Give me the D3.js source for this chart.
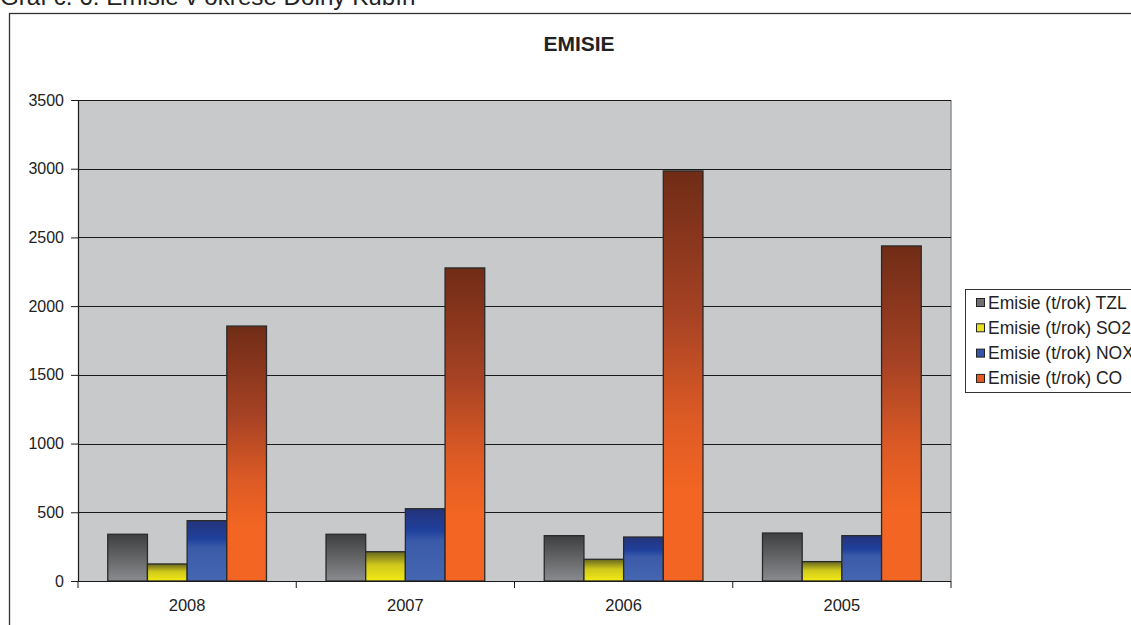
<!DOCTYPE html>
<html><head><meta charset="utf-8">
<script src="https://cdn.jsdelivr.net/npm/d3@7"></script>
<style>body{margin:0;background:#fff;}svg{display:block;font-family:"Liberation Sans",Arial,sans-serif;}</style>
</head><body>
<svg id="c" width="1131" height="625"></svg>
<script>
const categories = ["2008", "2007", "2006", "2005"];
const seriesNames = ["Emisie (t/rok) TZL", "Emisie (t/rok) SO2", "Emisie (t/rok) NOX", "Emisie (t/rok) CO"];
const tzl = [340, 340, 330, 349];
const so2 = [124, 213, 158, 141];
const nox = [439, 526, 320, 330];
const co  = [1855, 2278, 2984, 2438];
const yTicks = [0, 500, 1000, 1500, 2000, 2500, 3000, 3500];
const seriesValues = [tzl, so2, nox, co];

const gradStops = [
  [["0%","#3e3f40"],["100%","#8a8b8e"]],
  [["0%","#66661e"],["45%","#cfc81c"],["100%","#f2ea14"]],
  [["0%","#25337a"],["30%","#1f409c"],["45%","#3b5ba9"],["100%","#4566b1"]],
  [["0%","#702c16"],["35%","#a64224"],["60%","#dc5a25"],["78%","#f26522"],["100%","#f26522"]]
];
const swatchColors = ["#707072", "#e6e020", "#3555a8", "#e65a22"];

const svg = d3.select("#c");
const defs = svg.append("defs");
gradStops.forEach((st, i) => {
  const g = defs.append("linearGradient").attr("id", "g" + i)
    .attr("x1", 0).attr("y1", 0).attr("x2", 0).attr("y2", 1);
  st.forEach(s => g.append("stop").attr("offset", s[0]).attr("stop-color", s[1]));
});

// caption (cut at top in the reference)
svg.append("text").attr("x", 0).attr("y", 5).attr("font-size", 24.2).attr("fill", "#222")
  .text("Graf č. 6: Emisie v okrese Dolný Kubín");

// outer frame
svg.append("rect").attr("x", 9.5).attr("y", 13.5).attr("width", 1200).attr("height", 700)
  .attr("fill", "none").attr("stroke", "#333").attr("stroke-width", 1.3);

const L = 78, R = 951, T = 100, B = 581;
const x0 = d3.scaleBand().domain(categories).range([L, R]).paddingInner(0).paddingOuter(0);
const y = d3.scaleLinear().domain([0, 3500]).range([B, T]);
const bw = x0.bandwidth() / 5.5;
const x1 = d3.scaleBand().domain(d3.range(4)).range([bw * 0.75, bw * 4.75]).padding(0);

svg.append("rect").attr("x", L).attr("y", T).attr("width", R - L).attr("height", B - T).attr("fill", "#c8c9cb");
svg.append("line").attr("x1", R).attr("x2", R).attr("y1", T).attr("y2", B).attr("stroke", "#8e8f91").attr("stroke-width", 1.5);

// gridlines
svg.append("g").selectAll("line").data(yTicks.filter(d => d > 0)).join("line")
  .attr("x1", L).attr("x2", R).attr("y1", d => Math.round(y(d)) + 0.5).attr("y2", d => Math.round(y(d)) + 0.5)
  .attr("stroke", "#1a1a1a").attr("stroke-width", 1);

// title
svg.append("text").attr("x", 579).attr("y", 51).attr("text-anchor", "middle")
  .attr("font-size", 21).attr("font-weight", "bold").attr("fill", "#222").text("EMISIE");

// bars
categories.forEach((c, ci) => {
  seriesValues.forEach((vals, si) => {
    svg.append("rect")
      .attr("x", x0(c) + x1(si)).attr("y", y(vals[ci]))
      .attr("width", x1.bandwidth()).attr("height", B - y(vals[ci]))
      .attr("fill", `url(#g${si})`).attr("stroke", "#2a2a2a").attr("stroke-width", 1.3);
  });
});

// y axis
const ya = svg.append("g").attr("transform", `translate(${L},0)`)
  .call(d3.axisLeft(y).tickValues(yTicks).tickSize(7).tickPadding(7).tickFormat(d3.format("d")));
ya.select(".domain").attr("stroke", "#1a1a1a").attr("stroke-width", 1.2);
ya.selectAll(".tick line").attr("stroke", "#1a1a1a");
ya.selectAll("text").attr("font-size", 16).attr("fill", "#222").attr("font-family", "Liberation Sans, Arial, sans-serif");

// x axis
svg.append("line").attr("x1", L).attr("x2", R).attr("y1", B + 0.5).attr("y2", B + 0.5).attr("stroke", "#1a1a1a").attr("stroke-width", 1.2);
const bounds = categories.map(c => x0(c)).concat([R]);
svg.append("g").selectAll("line").data(bounds).join("line")
  .attr("x1", d => d).attr("x2", d => d).attr("y1", B).attr("y2", B + 7).attr("stroke", "#1a1a1a");
svg.append("g").selectAll("text").data(categories).join("text")
  .attr("x", d => x0(d) + x0.bandwidth() / 2).attr("y", 611).attr("text-anchor", "middle")
  .attr("font-size", 16.5).attr("fill", "#222").text(d => d);

// legend
const lg = svg.append("g");
lg.append("rect").attr("x", 965.5).attr("y", 289.5).attr("width", 200).attr("height", 103)
  .attr("fill", "#fff").attr("stroke", "#333").attr("stroke-width", 1);
seriesNames.forEach((n, i) => {
  const cy = 302.5 + i * 25.3;
  lg.append("rect").attr("x", 976.5).attr("y", cy - 4).attr("width", 8).attr("height", 8)
    .attr("fill", swatchColors[i]).attr("stroke", "#222").attr("stroke-width", 1);
  lg.append("text").attr("x", 988).attr("y", cy + 6).attr("font-size", 17.5).attr("fill", "#222").text(n);
});
</script>
</body></html>
